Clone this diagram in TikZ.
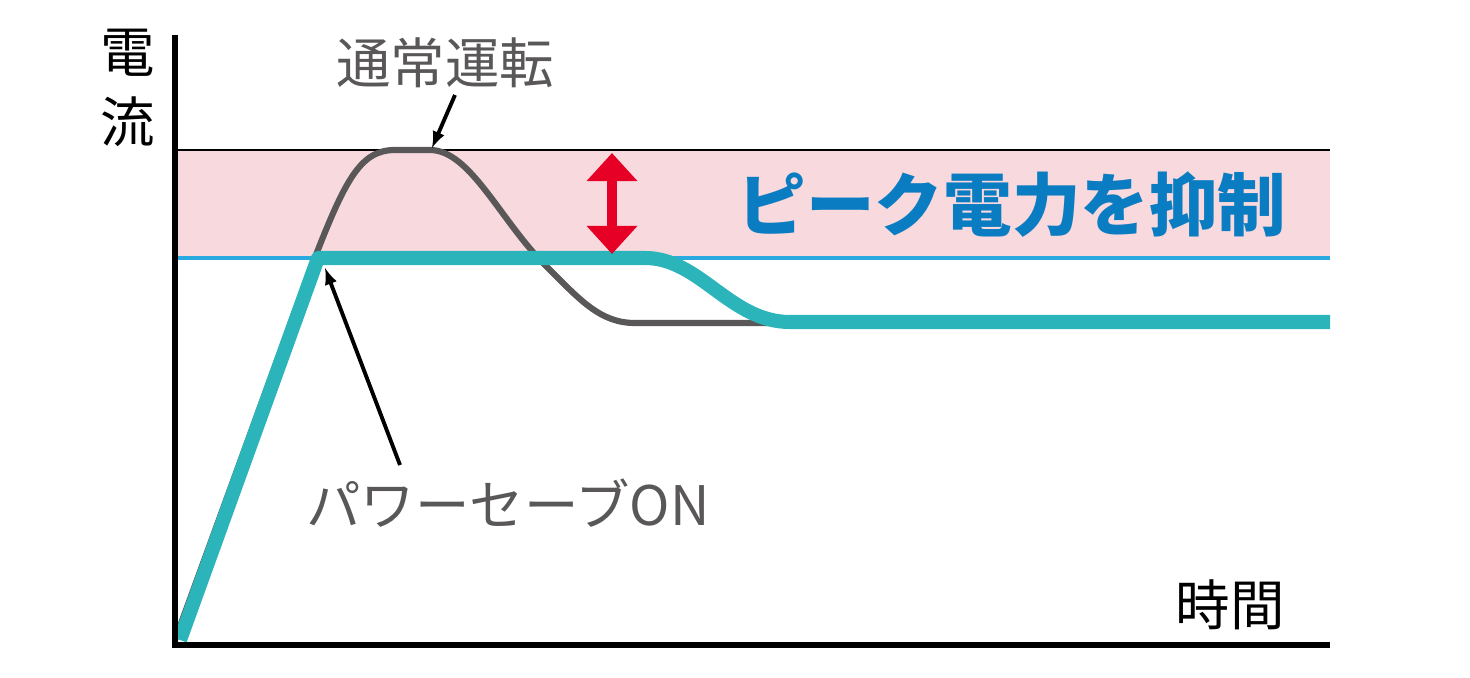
\documentclass[tikz,border=0pt]{standalone}
\usepackage{fontspec}
\usetikzlibrary{arrows.meta}
\newfontfamily\cjk{Noto Sans CJK JP}
\definecolor{gray}{HTML}{595757}
\definecolor{teal}{HTML}{2BB5BA}
\definecolor{sky}{HTML}{29ABE2}
\definecolor{band}{HTML}{F8D9DE}
\definecolor{title}{HTML}{0A7CC1}
\definecolor{red}{HTML}{E60026}
\tikzset{
  lbl/.style={font=\cjk\fontsize{31}{36}\selectfont, text=gray},
  ptr/.style={-latex, line width=2.2pt}
}
\begin{document}
\begin{tikzpicture}[x=0.02cm, y=-0.02cm]
    \useasboundingbox (0,0) rectangle (1470,678);
    % band
    \fill[band] (175,150) rectangle (1330,258);
    \draw[line width=1.2pt] (175,150) -- (1330,150);
    \draw[sky, line width=2.5pt] (175,258) -- (1330,258);
    % curves
    \draw[gray, line width=3.5pt, line join=round]
      (175,640) -- (312,265) .. controls (345,180) and (360,150) .. (395,150)
      -- (430,150) .. controls (470,150) and (500,220) .. (545,265)
      .. controls (580,300) and (600,323) .. (635,323) -- (790,323);
    \draw[teal, line width=8pt, line join=round]
      (180,640) -- (318,258) -- (645,258)
      .. controls (700,258) and (730,322) .. (790,322) -- (1330,322);
    % axes
    \draw[line width=3pt] (175,35) -- (175,645) -- (1330,645);
    % arrows
    \draw[red, line width=6pt, {Triangle[width=28pt,length=16pt]}-{Triangle[width=28pt,length=16pt]}] (612,153) -- (612,254);
    \node[lbl] (normal) at (445,63) {通常運転};
    \coordinate (peak) at (432,148);
    \draw[ptr] (455,95) -- (peak);
    \node[lbl] (save) at (508,503) {パワーセーブON};
    \coordinate (knee) at (325,268);
    \draw[ptr] (400,465) -- (knee);
    \node[font=\cjk\bfseries\fontsize{39}{44}\selectfont, text=title] (cut) at (1012,205) {ピーク電力を抑制};
    \node[font=\cjk\fontsize{31}{40}\selectfont, align=center] (yl) at (128,88) {電\\流};
    \node[font=\cjk\fontsize{31}{36}\selectfont] (xl) at (1230,605) {時間};
\end{tikzpicture}
\end{document}
